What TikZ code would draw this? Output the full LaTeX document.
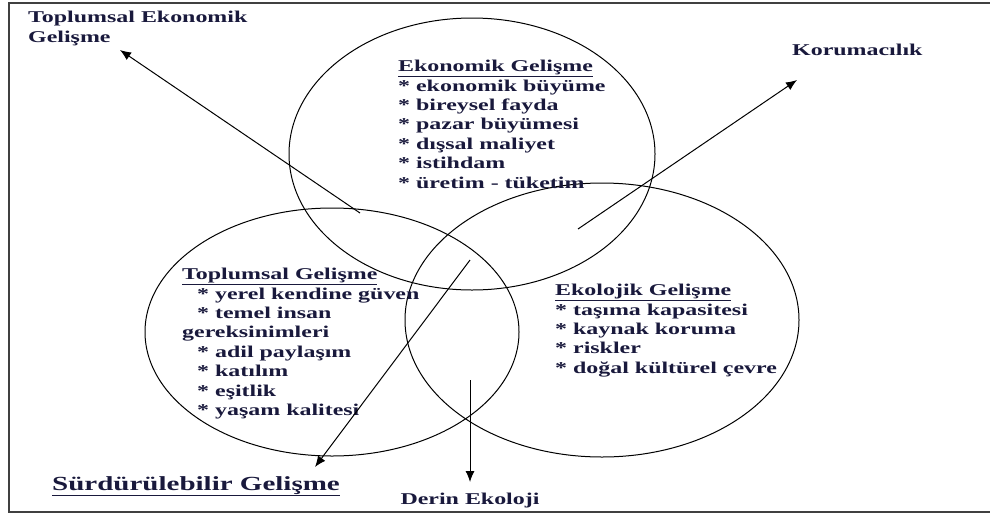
\documentclass[tikz,border=0pt]{standalone}
\usepackage{fontspec}
\setmainfont{Liberation Serif}[FakeStretch=1.45]
\usetikzlibrary{arrows.meta}
\usetikzlibrary{shapes.geometric}
\usetikzlibrary{positioning}
\definecolor{inkblue}{RGB}{25,25,60}

\begin{document}
\begin{tikzpicture}[x=1pt, y=-1pt, every node/.style={text=inkblue, inner sep=0pt, font=\bfseries\fontsize{16.5}{19.4}\selectfont},
 ring/.style={ellipse, draw, line width=1pt},
 pil/.style={-{Latex[length=11pt,width=9pt]}, line width=1pt}
]
 \tikzstyle{blk}=[anchor=north west, align=left];
\useasboundingbox (0,0) rectangle (990,515);
\clip (0,0) rectangle (990,515);
\draw[line width=2pt, black!75] (1000,3) -- (9,3) -- (9,512) -- (1000,512);

% three circles
\node[ring, minimum width=366pt, minimum height=272pt] (eko) at (472,154) {};
\node[ring, minimum width=374pt, minimum height=248pt] (top) at (332,332) {};
\node[ring, minimum width=394pt, minimum height=274pt] (ekl) at (602,320) {};

% texts
\node[blk] (ekoT) at (398,60) {\underline{Ekonomik Gelişme}\\
 * ekonomik büyüme\\ * bireysel fayda\\ * pazar büyümesi\\
 * dışsal maliyet\\ * istihdam\\ * üretim - tüketim};
\node[blk] (topT) at (182,268) {\underline{Toplumsal Gelişme}\\
 \hspace{15pt}* yerel kendine güven\\ \hspace{15pt}* temel insan\\ gereksinimleri\\
 \hspace{15pt}* adil paylaşım\\ \hspace{15pt}* katılım\\ \hspace{15pt}* eşitlik\\
 \hspace{15pt}* yaşam kalitesi};
\node[blk] (eklT) at (555,284) {\underline{Ekolojik Gelişme}\\
 * taşıma kapasitesi\\ * kaynak koruma\\ * riskler\\ * doğal kültürel çevre};

\node[blk] (teg) at (28,11) {Toplumsal Ekonomik\\Gelişme};
\node[anchor=west] (kor) at (792,50) {Korumacılık};
\node[anchor=north west, font=\bfseries\fontsize{20}{24}\selectfont] (sur) at (52,476) {\underline{Sürdürülebilir Gelişme}};
\node[anchor=north] (der) at (470,493) {Derin Ekoloji};

% arrows
\coordinate (s1) at (360,213); \coordinate (e1) at (120,50);
\coordinate (s2) at (578,229); \coordinate (e2) at (797,80);
\coordinate (s3) at (470,260); \coordinate (e3) at (315,467);
\coordinate (s4) at (470,380); \coordinate (e4) at (470,482);
\draw[pil] (s1) -- (e1);
\draw[pil] (s2) -- (e2);
\draw[pil] (s3) -- (e3);
\draw[pil] (s4) -- (e4);

\end{tikzpicture}
\end{document}
